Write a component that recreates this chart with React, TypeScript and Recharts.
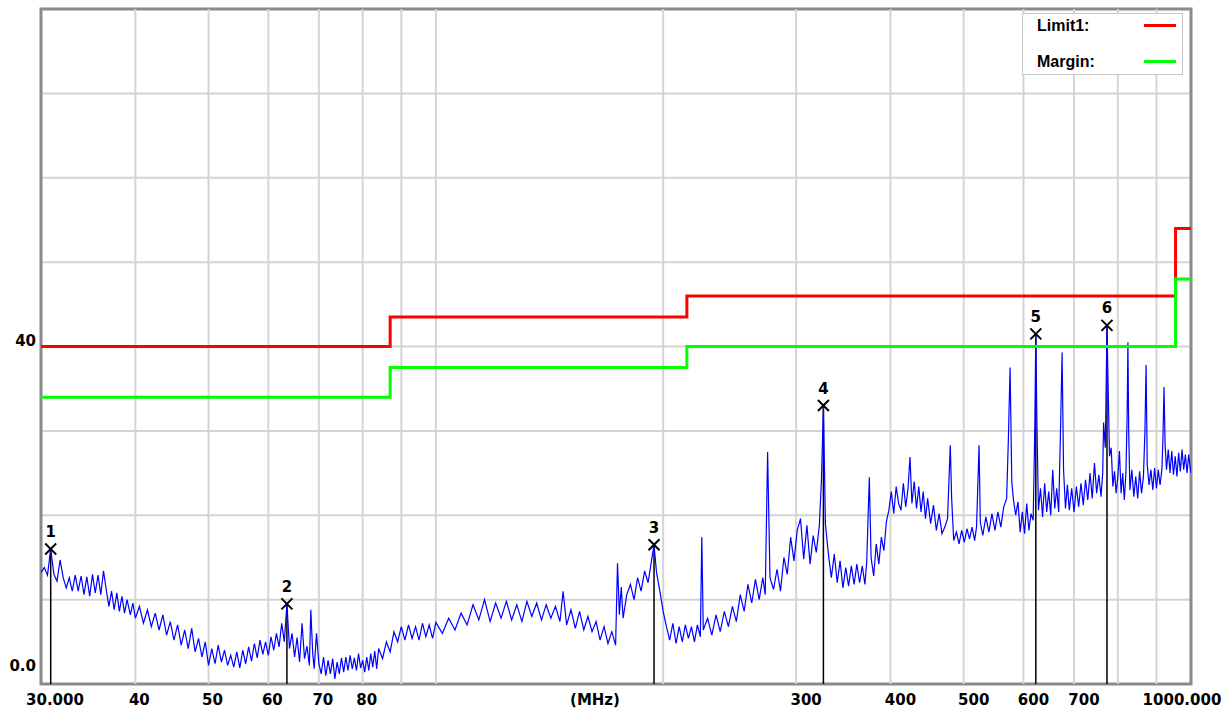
import React from 'react';
import {
  ComposedChart,
  Line,
  Scatter,
  XAxis,
  YAxis,
  CartesianGrid,
  ReferenceLine,
  ReferenceArea,
  Legend,
} from 'recharts';

// measured spectrum, [frequency MHz, level dBuV]
const trace: [number, number][] = [
  [30.0, 13.2], [30.3, 13.8], [30.6, 12.9], [30.9, 16.0], [31.2, 13.0], [31.5, 12.2], [31.8, 14.7],
  [32.1, 12.6], [32.4, 11.4], [32.7, 12.6], [33.0, 11.0], [33.3, 12.9], [33.6, 11.0], [33.9, 12.8],
  [34.2, 10.6], [34.5, 12.7], [34.8, 10.4], [35.1, 13.0], [35.4, 10.8], [35.7, 12.9], [36.0, 10.6],
  [36.3, 13.4], [36.6, 11.2], [36.9, 9.2], [37.2, 11.0], [37.5, 8.8], [37.8, 10.8], [38.1, 8.6],
  [38.4, 10.4], [38.7, 8.4], [39.0, 10.0], [39.4, 8.2], [39.7, 9.6], [40.0, 7.8],
  [40.5, 9.2], [41.0, 7.2], [41.5, 8.8], [42.0, 6.8], [42.5, 8.4], [43.0, 6.4], [43.5, 8.2],
  [44.0, 5.8], [44.5, 7.4], [45.0, 5.2], [45.5, 7.0], [46.0, 4.6], [46.5, 6.4], [47.0, 4.2],
  [47.5, 6.6], [48.0, 3.8], [48.5, 5.4], [49.0, 3.2], [49.5, 5.0], [50.0, 2.2], [50.5, 4.2],
  [51.0, 2.4], [51.5, 4.6], [52.0, 2.6], [52.5, 4.0], [53.0, 2.2], [53.5, 3.4], [54.0, 2.0],
  [54.5, 3.8], [55.0, 1.9], [55.5, 4.0], [56.0, 2.4], [56.5, 4.4], [57.0, 2.7], [57.5, 4.8],
  [58.0, 3.1], [58.5, 5.2], [59.0, 3.5], [59.5, 5.0], [60.0, 3.4], [60.5, 5.6], [61.0, 4.0],
  [61.5, 6.0], [62.0, 4.4], [62.5, 7.2], [63.0, 5.0], [63.5, 9.5], [64.0, 4.2], [64.5, 6.0],
  [65.0, 3.2], [65.5, 5.5], [66.0, 2.6], [66.5, 7.2], [67.0, 3.0], [67.5, 4.5], [68.0, 2.2],
  [68.3, 8.8], [68.7, 3.6], [69.0, 1.8], [69.5, 6.0], [70.0, 2.4], [70.5, 1.2], [71.0, 3.2],
  [71.5, 1.0], [72.0, 2.8], [72.5, 1.2], [73.0, 3.0], [73.5, 0.6], [74.0, 2.6], [74.5, 1.2],
  [75.0, 3.1], [75.5, 1.4], [76.0, 3.2], [76.5, 1.6], [77.0, 3.4], [77.5, 1.8], [78.0, 3.1],
  [78.5, 1.6], [79.0, 3.6], [79.5, 1.9], [80.0, 2.8], [80.5, 1.4], [81.0, 3.2], [81.5, 1.6],
  [82.0, 3.6], [82.5, 2.0], [83.0, 3.9], [83.5, 1.8], [84.0, 4.2], [85.0, 3.0], [86.0, 5.0],
  [87.0, 3.8], [88.0, 6.2], [89.0, 5.0], [90.0, 6.8], [91.0, 5.2], [92.0, 7.0], [93.0, 5.4],
  [94.0, 6.8], [95.0, 5.2], [96.0, 7.2], [97.0, 5.6], [98.0, 7.0], [99.0, 5.4], [100.0, 7.3],
  [102, 6.0], [104, 7.8], [106, 6.4], [108, 8.4], [110, 7.0], [112, 9.4], [114, 7.6], [116, 10.0],
  [118, 7.4], [120, 9.6], [122, 7.8], [124, 9.8], [126, 7.6], [128, 9.4], [130, 7.4], [132, 9.8],
  [134, 8.0], [136, 9.6], [138, 7.6], [140, 9.4], [142, 7.8], [144, 9.2], [146, 7.4], [147.4, 11.0],
  [149, 7.0], [151, 8.8], [153, 6.6], [155, 8.6], [157, 6.4], [159, 8.0], [161, 6.2], [163, 7.4],
  [165, 5.2], [167, 6.8], [169, 4.8], [171, 6.2], [173, 4.6], [174, 14.3], [175, 8.2], [176, 11.5],
  [177, 7.8], [179, 10.6], [181, 11.8], [183, 10.0], [185, 12.6], [187, 11.0], [189, 13.4],
  [191, 12.0], [193, 14.6], [194.5, 16.5], [196, 13.2], [198, 11.0], [200, 8.6],
  [202, 6.8], [204, 5.2], [206, 7.2], [208, 4.8], [210, 6.8], [212, 5.0], [214, 7.0], [216, 5.4],
  [218, 6.8], [220, 5.0], [222, 7.0], [224, 5.6], [225, 17.4], [226, 6.4], [229, 7.8], [232, 5.8],
  [235, 8.2], [238, 6.2], [241, 8.6], [244, 6.8], [247, 9.2], [250, 7.4], [253, 10.6], [256, 8.6],
  [259, 11.8], [262, 9.6], [265, 12.4], [268, 10.0], [271, 12.6], [273, 10.6], [275, 27.5],
  [277, 12.6], [280, 11.2], [283, 13.6], [286, 11.0], [289, 15.0], [292, 13.0], [295, 17.4],
  [298, 14.6], [301, 18.2], [304, 19.6], [307, 14.8], [310, 18.8], [313, 14.2], [316, 17.6],
  [319, 15.6], [322, 18.8], [324, 24.0], [326, 33.0], [328, 19.0], [331, 15.4], [334, 12.6],
  [337, 15.4], [340, 12.0], [343, 14.6], [346, 11.4], [349, 13.8], [352, 11.6], [355, 14.0],
  [358, 11.8], [361, 14.2], [364, 12.0], [367, 14.0], [370, 11.8], [372, 14.4], [375, 24.5],
  [377, 15.0], [380, 12.8], [383, 16.6], [386, 14.2], [389, 17.4], [392, 15.8], [395, 19.2],
  [398, 20.6], [401, 22.8], [404, 20.2], [407, 23.4], [410, 21.4], [413, 20.6], [416, 23.8],
  [419, 21.0], [422, 23.2], [424.5, 26.9], [427, 21.4], [430, 24.0], [433, 20.8], [436, 23.4],
  [439, 20.4], [442, 22.8], [445, 19.6], [448, 22.0], [452, 19.0], [456, 21.2], [460, 18.2],
  [464, 20.2], [468, 17.8], [472, 18.6], [476, 19.6], [480, 28.3], [482, 22.0], [485, 17.0],
  [489, 18.0], [493, 16.6], [497, 18.2], [501, 16.8], [505, 18.4], [509, 17.2], [513, 18.6],
  [517, 17.0], [520, 18.6], [524, 28.3], [526, 19.2], [530, 17.6], [535, 19.8], [540, 18.0],
  [545, 20.2], [550, 18.2], [555, 20.4], [560, 18.6], [565, 21.0], [570, 22.0], [573, 29.0],
  [576, 37.5], [579, 24.0], [582, 21.8], [586, 20.0], [590, 21.6], [594, 18.0], [598, 20.4],
  [602, 17.8], [606, 21.4], [610, 18.2], [614, 20.2], [618, 19.4], [621, 30.0], [623, 41.5],
  [625, 31.5], [628, 20.6], [632, 23.2], [636, 19.8], [640, 23.8], [644, 20.4], [648, 22.8],
  [652, 20.0], [656, 25.4], [660, 20.8], [664, 23.2], [668, 20.4], [672, 30.8], [675, 39.3],
  [678, 25.4], [682, 20.8], [686, 23.6], [690, 20.6], [695, 23.2], [700, 20.4], [705, 23.4],
  [710, 21.0], [715, 23.8], [720, 21.2], [725, 24.2], [730, 21.8], [735, 25.0], [740, 22.0],
  [745, 26.2], [750, 22.6], [755, 24.8], [760, 22.2], [764, 25.0], [766, 31.0], [770, 28.0],
  [772, 35.0], [774, 42.5], [777, 34.5], [780, 27.0], [784, 28.0], [788, 23.4], [792, 25.2],
  [796, 22.6], [800, 24.6], [804, 27.6], [808, 22.6], [812, 25.0], [816, 21.8], [820, 25.0],
  [823, 31.6], [825, 40.5], [827, 30.0], [830, 23.0], [835, 25.4], [840, 22.2], [845, 24.6],
  [850, 22.0], [855, 25.2], [860, 22.6], [865, 24.6], [869, 30.0], [872, 37.8], [875, 26.0],
  [880, 23.6], [885, 25.4], [890, 23.0], [895, 25.6], [900, 23.2], [905, 25.4], [910, 23.6],
  [915, 25.4], [918, 29.0], [921, 35.2], [924, 28.4], [928, 25.4], [933, 27.8], [938, 25.0],
  [943, 27.6], [948, 24.8], [953, 27.0], [958, 24.6], [963, 27.4], [968, 25.2], [973, 27.8],
  [978, 25.4], [983, 27.2], [988, 25.0], [993, 27.2], [997, 25.8], [1000, 25.0],
];

const limitFreq = [30, 87, 215, 954, 1000];
const limit1 = [40, 43.5, 46, 54, 54];
const margin = [34, 37.5, 40, 48, 48];

const markerFreq = [30.9, 63.5, 194.5, 326, 623, 774];
const markerLevel = [16.0, 9.5, 16.5, 33.0, 41.5, 42.5];

const xTicks = [30, 40, 50, 60, 70, 80, 160, 300, 400, 500, 600, 700, 1000];
const xTickLabels: Record<number, string> = {
  30: '30.000', 160: '(MHz)', 1000: '1000.000',
};
const xGrid = [40, 50, 60, 70, 80, 90, 100, 200, 300, 400, 500, 600, 700, 800, 900];
const yTicks = [0, 10, 20, 30, 40, 50, 60, 70, 80];

const traceData = trace.map(([f, v]) => ({ f, v }));
const limitData = limitFreq.map((f, i) => ({ f, v: limit1[i] }));
const marginData = limitFreq.map((f, i) => ({ f, v: margin[i] }));
const markerData = markerFreq.map((f, i) => ({ f, v: markerLevel[i], n: i + 1 }));

const font = '"DejaVu Sans", sans-serif';

const XTick = (props: any) => {
  const { x, y, payload } = props;
  const value = payload.value;
  let dx = value < 100 ? 4 : 10;
  if (value === 30) dx = 14;
  if (value === 160) dx = 5;
  if (value === 1000) dx = -9;
  const label = xTickLabels[value] ?? String(value);
  return (
    <text x={x + dx} y={y + 16} textAnchor="middle" dominantBaseline="central"
      fontFamily={font} fontWeight="bold" fontSize={15} fill="#000">
      {label}
    </text>
  );
};

const YTick = (props: any) => {
  const { x, y, payload } = props;
  if (payload.value !== 0 && payload.value !== 40) return null;
  const dy = payload.value === 0 ? -18 : -6;
  return (
    <text x={x - 5} y={y + dy} textAnchor="end" dominantBaseline="central"
      fontFamily={font} fontWeight="bold" fontSize={15} fill="#000">
      {payload.value === 0 ? '0.0' : '40'}
    </text>
  );
};

const MarkerShape = (props: any) => {
  const { cx, cy, payload } = props;
  const s = 5.5;
  return (
    <g>
      <line x1={cx - s} y1={cy - s} x2={cx + s} y2={cy + s} stroke="#000" strokeWidth={2} />
      <line x1={cx - s} y1={cy + s} x2={cx + s} y2={cy - s} stroke="#000" strokeWidth={2} />
      <text x={cx} y={cy - 17} textAnchor="middle" dominantBaseline="central"
        fontFamily={font} fontWeight="bold" fontSize={15} fill="#000">
        {payload.n}
      </text>
    </g>
  );
};

const LegendBox = () => {
  const items = [
    { name: 'Limit1:', color: '#ff0000', y: 12 },
    { name: 'Margin:', color: '#00ff00', y: 48 },
  ];
  return (
    <div style={{ width: 161, height: 62, background: '#fff', border: '1.5px solid #c8c8c8', boxSizing: 'border-box', position: 'relative' }}>
      {items.map((it) => (
        <React.Fragment key={it.name}>
          <span style={{ position: 'absolute', left: 14, top: it.y - 11, fontFamily: '"Liberation Sans", Arial, sans-serif', fontWeight: 'bold', fontSize: 16, lineHeight: '22px' }}>
            {it.name}
          </span>
          <span style={{ position: 'absolute', left: 121, top: it.y - 2, width: 32, height: 3, background: it.color }} />
        </React.Fragment>
      ))}
    </div>
  );
};

export default function App() {
  return (
    <div style={{ position: 'absolute', left: 0, top: 0, background: '#fff' }}>
      <ComposedChart width={1232} height={710} margin={{ top: 9, right: 41, bottom: 0, left: 3 }}>
        <CartesianGrid vertical={false} stroke="#d4d4d4" strokeWidth={2} />
        {xGrid.map((f) => (
          <ReferenceLine key={`g-${f}`} x={f} stroke="#d4d4d4" strokeWidth={2} />
        ))}
        <XAxis dataKey="f" type="number" scale="log" domain={[30, 1000]} ticks={xTicks}
          allowDataOverflow interval={0} height={26} tickSize={0} tickMargin={0}
          axisLine={false} tick={<XTick />} />
        <YAxis type="number" domain={[0, 80]} ticks={yTicks} interval={0} width={38}
          tickSize={0} tickMargin={0} axisLine={false} tick={<YTick />} />
        {markerData.map((m) => (
          <ReferenceLine key={`m-${m.n}`} segment={[{ x: m.f, y: 0 }, { x: m.f, y: m.v }]}
            stroke="#000" strokeWidth={1.5} />
        ))}
        <Line data={traceData} dataKey="v" name="trace" type="linear" stroke="#0000ff"
          strokeWidth={1.2} dot={false} isAnimationActive={false} legendType="none" />
        <Line data={limitData} dataKey="v" name="Limit1" type="stepAfter" stroke="#ff0000"
          strokeWidth={3} dot={false} isAnimationActive={false} />
        <Line data={marginData} dataKey="v" name="Margin" type="stepAfter" stroke="#00ff00"
          strokeWidth={3} dot={false} isAnimationActive={false} />
        <Scatter data={markerData} dataKey="v" shape={<MarkerShape />} isAnimationActive={false}
          legendType="none" />
        <ReferenceArea x1={30} x2={1000} y1={0} y2={80} fill="none" stroke="#8a8a8a"
          strokeWidth={3} ifOverflow="visible" />
        <Legend layout="horizontal" verticalAlign="middle" align="center" content={<LegendBox />}
          wrapperStyle={{ position: 'absolute', left: 1022, top: 13, width: 161, height: 62 }} />
      </ComposedChart>
    </div>
  );
}
